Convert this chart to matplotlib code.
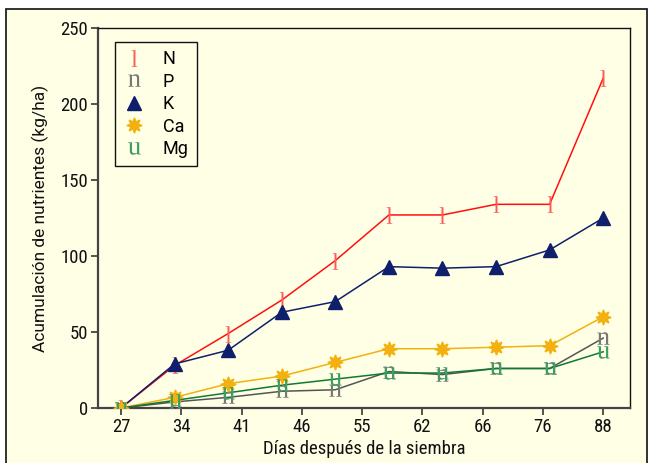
import matplotlib
matplotlib.use("Agg")
import matplotlib.pyplot as plt
from matplotlib.lines import Line2D
from matplotlib.patches import Rectangle
import numpy as np

plt.rcParams['mathtext.fontset'] = 'custom'
plt.rcParams['mathtext.rm'] = 'Liberation Serif'

days = ["27", "34", "41", "46", "55", "62", "66", "76", "88"]
n_points = 10
N = [0, 28, 49, 71, 97, 127, 127, 134, 134, 217]
P = [0, 4, 7, 11, 12, 24, 22, 26, 26, 46]
K = [0, 29, 38, 63, 70, 93, 92, 93, 104, 125]
Ca = [0, 7, 16, 21, 30, 39, 39, 40, 41, 60]
Mg = [0, 5, 10, 15, 19, 23, 23, 26, 26, 37]

bg = '#FFFFE6'
fig = plt.figure(figsize=(6.5, 4.63), dpi=100, facecolor='white')
fig.patches.append(Rectangle((6/650, -0.05), 641/650, 1.05 - 9/463,
                             transform=fig.transFigure, facecolor=bg,
                             edgecolor='#222222', linewidth=1.3, zorder=-10))

ax = fig.add_axes([98/650, 55/463, 532/650, 380/463])
ax.set_facecolor(bg)

x = np.arange(n_points)
series = [
    ("N", N, '#FF1010', '#FF5A5A', r'$\mathrm{l}$', 12, True),
    ("P", P, '#555555', '#777777', r'$\mathrm{n}$', 9, True),
    ("K", K, '#0F1F6B', '#0F1F6B', '^', 10, False),
    ("Ca", Ca, '#F2B10E', '#F2B10E', (8, 1, 0), 11, False),
    ("Mg", Mg, '#0E7A34', '#3C9E62', r'$\mathrm{u}$', 9, True),
]
handles = []
for name, vals, lc, mc, mk, ms, is_text in series:
    mew = 0 if is_text else 1.0
    ax.plot(x, vals, color=lc, lw=1.1, zorder=2)
    ax.plot(x, vals, linestyle='none', marker=mk, markersize=ms,
            color=mc, markeredgecolor=mc, markerfacecolor=mc,
            markeredgewidth=mew, zorder=3)
    handles.append(Line2D([], [], linestyle='none', marker=mk, markersize=ms,
                          color=mc, markeredgecolor=mc, markerfacecolor=mc,
                          markeredgewidth=mew, label=name))

ax.set_xlim(-0.43, 9.5)
ax.set_ylim(0, 250)
ax.set_xticks(np.linspace(0, n_points - 1, len(days)))
ax.set_xticklabels(days)
ax.set_yticks([0, 50, 100, 150, 200, 250])

narrow = ['Roboto Condensed', 'DejaVu Sans']
regular = ['Roboto', 'DejaVu Sans']
for lab in ax.get_xticklabels():
    lab.set_family(narrow)
    lab.set_fontsize(13.5)
for lab in ax.get_yticklabels():
    lab.set_family(narrow)
    lab.set_fontsize(13.5)

ax.tick_params(axis='both', direction='out', length=5, width=1.3,
               color='#444444', labelcolor='#111111', pad=2)
ax.tick_params(top=False, right=False)
for s in ['left', 'bottom']:
    ax.spines[s].set_color('#444444')
    ax.spines[s].set_linewidth(1.6)
for s in ['top', 'right']:
    ax.spines[s].set_color('#111111')
    ax.spines[s].set_linewidth(1.0)

ax.set_xlabel("Días después de la siembra", family=narrow, fontsize=13.5,
              color='#111111', labelpad=3)
ax.set_ylabel("Acumulación de nutrientes (kg/ha)", family=regular,
              fontsize=12.5, color='#111111', labelpad=8)

leg = ax.legend(handles=handles, loc='upper left', bbox_to_anchor=(0.032, 0.963),
                frameon=True, fancybox=False, edgecolor='#111111',
                facecolor=bg, framealpha=1, borderaxespad=0,
                prop={'family': regular, 'size': 13},
                labelspacing=0.25, handlelength=1.2, handletextpad=1.0,
                borderpad=0.45)
leg.get_frame().set_linewidth(1.0)

fig.savefig("out.png", dpi=100, facecolor='white')
